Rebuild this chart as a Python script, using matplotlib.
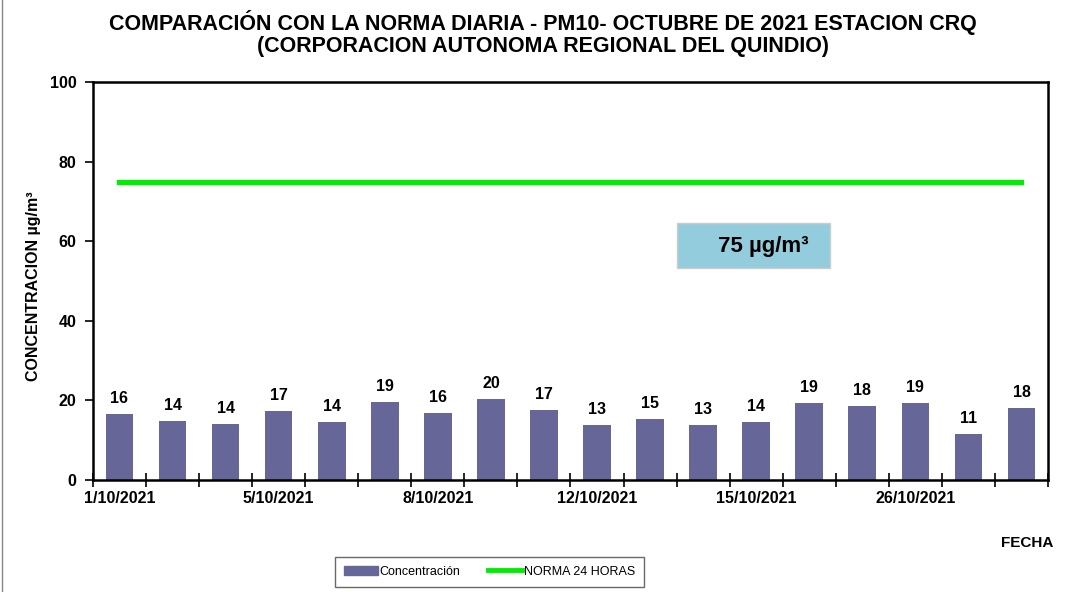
import numpy as np
import matplotlib
matplotlib.use('Agg')
from matplotlib import pyplot as plt
from matplotlib.patches import Rectangle
from matplotlib.lines import Line2D

fechas = ['1/10/2021', '', '', '5/10/2021', '', '', '8/10/2021', '', '',
          '12/10/2021', '', '', '15/10/2021', '', '', '26/10/2021', '', '']
concentracion = [16.6, 14.9, 14.2, 17.3, 14.7, 19.6, 16.9, 20.3, 17.5,
                 13.8, 15.4, 13.9, 14.6, 19.3, 18.5, 19.3, 11.5, 18.0]
norma = 75

plt.rcParams['font.family'] = ['Liberation Sans', 'DejaVu Sans']

fig = plt.figure(figsize=(10.71, 5.92), dpi=100)
ax = fig.add_axes([0.0868, 0.189, 0.8917, 0.6725])

x = np.arange(len(concentracion))
ax.bar(x, concentracion, width=0.52, color='#666699', zorder=2)
for xi, v in zip(x, concentracion):
    ax.text(xi, v + 2.0, str(int(v)), ha='center', va='bottom',
            fontsize=11.5, fontweight='bold')

ax.plot([x[0], x[-1]], [norma, norma], color='#00ee00', lw=3.8, zorder=3)

ax.set_xlim(-0.5, len(x) - 0.5)
ax.set_ylim(0, 100)
ax.set_yticks(np.arange(0, 101, 20))
ax.set_xticks(x)
ax.set_xticklabels(fechas)
ax.set_xticks(np.arange(-0.5, len(x), 1), minor=True)
ax.tick_params(axis='x', which='major', length=0, pad=8)
ax.tick_params(axis='x', which='minor', direction='inout', length=10, width=1.2)
ax.tick_params(axis='y', direction='out', length=6, width=1.2, pad=6)
for lab in ax.get_xticklabels() + ax.get_yticklabels():
    lab.set_fontweight('bold')
    lab.set_fontsize(11.5)
for s in ax.spines.values():
    s.set_linewidth(1.8)

# caja de la norma
ax.add_patch(Rectangle((10.5, 53.4), 2.9, 11.3, facecolor='#93cddd',
                       edgecolor='#cccccc', lw=1, zorder=4))
ax.text(12.14, 58.7, '75 µg/m³', ha='center', va='center', fontsize=16,
        fontweight='bold', zorder=5)

fig.text(0.507, 0.962, 'COMPARACIÓN CON LA NORMA DIARIA - PM10- OCTUBRE DE 2021 ESTACION CRQ',
         ha='center', va='center', fontsize=15.5, fontweight='bold')
fig.text(0.507, 0.922, '(CORPORACION AUTONOMA REGIONAL DEL QUINDIO)',
         ha='center', va='center', fontsize=15.5, fontweight='bold')

fig.text(0.031, 0.517, 'CONCENTRACION µg/m³', rotation=90, ha='center', va='center',
         fontsize=11.5, fontweight='bold')
fig.text(0.959, 0.083, 'FECHA', ha='center', va='center', fontsize=11,
         fontweight='bold')

handles = [Rectangle((0, 0), 1, 1, color='#666699'),
           Line2D([0], [0], color='#00ee00', lw=3.5)]
leg = fig.legend(handles, ['Concentración', 'NORMA 24 HORAS'], ncol=2,
                 loc='center', bbox_to_anchor=(0.457, 0.034), frameon=True,
                 fancybox=False, handlelength=2.7, handletextpad=0.15,
                 columnspacing=2.2, borderpad=0.7, borderaxespad=0,
                 prop={'size': 9})
leg.get_frame().set_edgecolor('#444444')
leg.get_frame().set_linewidth(1)

fig.add_artist(Line2D([0.002, 0.002], [0, 1], color='#888888', lw=1,
                      transform=fig.transFigure))

fig.savefig('out.png', dpi=100)
